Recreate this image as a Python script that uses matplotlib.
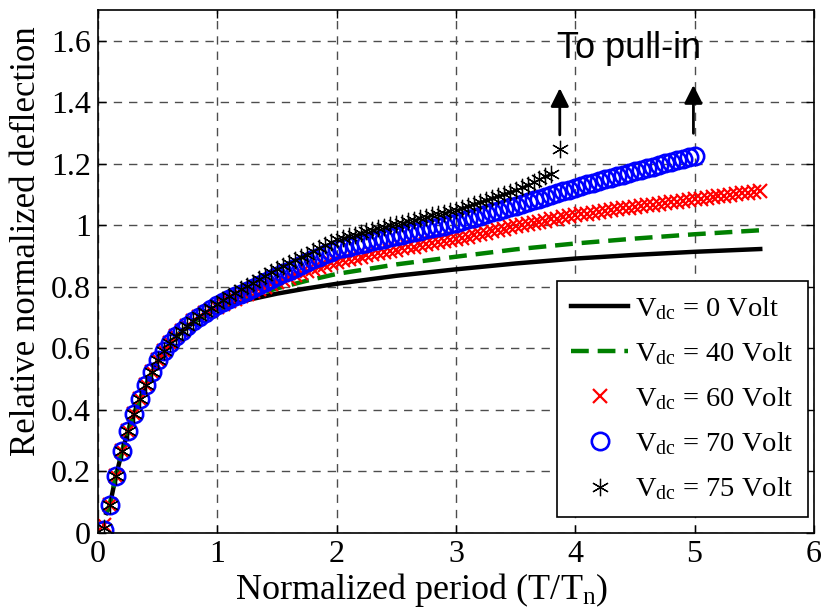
import matplotlib
matplotlib.use("Agg")
import matplotlib.pyplot as plt
import numpy as np

plt.rcParams['font.family'] = ['Liberation Serif', 'DejaVu Serif']
plt.rcParams['mathtext.fontset'] = 'custom'
plt.rcParams['mathtext.rm'] = 'Liberation Serif'
plt.rcParams['mathtext.it'] = 'Liberation Serif:italic'

# smooth curves (Vdc = 0 and 40 Volt)
x_line = [0.07, 0.1, 0.15, 0.2, 0.25, 0.3, 0.4, 0.5, 0.6, 0.7, 0.8, 0.9, 1.0,
          1.25, 1.5, 1.75, 2.0, 2.5, 3.0, 3.5, 4.0, 4.5, 5.0, 5.55]
y_v0 = [0.065, 0.092, 0.185, 0.262, 0.328, 0.384, 0.480, 0.558, 0.614, 0.654, 0.684, 0.708, 0.728,
        0.757, 0.778, 0.795, 0.810, 0.836, 0.857, 0.876, 0.892, 0.904, 0.914, 0.923]
y_v40 = [0.065, 0.092, 0.185, 0.264, 0.330, 0.386, 0.481, 0.560, 0.616, 0.656, 0.686, 0.710, 0.730,
         0.765, 0.795, 0.820, 0.842, 0.873, 0.898, 0.922, 0.941, 0.957, 0.971, 0.984]

# marker series, sampled every 0.05 in T/Tn
x_grid = np.round(np.arange(1, 112) * 0.05, 2)

y_v60 = [0.025, 0.090, 0.185, 0.265, 0.330, 0.386, 0.437, 0.482, 0.524, 0.561, 0.592, 0.618, 0.640, 0.658, 0.674, 0.688,
         0.702, 0.715, 0.725, 0.735,
         0.744, 0.753, 0.761, 0.770, 0.778, 0.786, 0.794, 0.801, 0.809, 0.816, 0.823, 0.830, 0.837, 0.844, 0.851, 0.857, 0.864, 0.870, 0.876, 0.882,
         0.886, 0.890, 0.894, 0.898, 0.902, 0.906, 0.910, 0.914, 0.918, 0.921, 0.925, 0.928, 0.931, 0.935, 0.938, 0.941, 0.945, 0.948, 0.952, 0.955,
         0.959, 0.963, 0.968, 0.972, 0.976, 0.980, 0.984, 0.989, 0.993, 0.997, 1.001, 1.004, 1.008, 1.012, 1.015, 1.019, 1.022, 1.026, 1.029, 1.033,
         1.036, 1.038, 1.041, 1.044, 1.047, 1.049, 1.052, 1.055, 1.057, 1.060, 1.062, 1.065, 1.067, 1.070, 1.072, 1.075, 1.077, 1.079, 1.082, 1.084,
         1.086, 1.089, 1.091, 1.094, 1.096, 1.099, 1.101, 1.104, 1.106, 1.109, 1.111]

y_v70 = [0.010, 0.090, 0.185, 0.265, 0.330, 0.386, 0.437, 0.482, 0.524, 0.561, 0.592, 0.618, 0.640, 0.658, 0.674, 0.688,
         0.703, 0.716, 0.728, 0.740,
         0.750, 0.759, 0.769, 0.778, 0.787, 0.796, 0.805, 0.815, 0.825, 0.835, 0.844, 0.853, 0.862, 0.871, 0.880, 0.889, 0.897, 0.906, 0.914, 0.922,
         0.926, 0.931, 0.935, 0.939, 0.944, 0.948, 0.952, 0.957, 0.961, 0.965, 0.969, 0.974, 0.978, 0.982, 0.987, 0.991, 0.995, 0.999, 1.004, 1.008,
         1.014, 1.019, 1.025, 1.030, 1.036, 1.042, 1.047, 1.053, 1.058, 1.064, 1.070, 1.076, 1.081, 1.087, 1.093, 1.099, 1.105, 1.110, 1.116, 1.122,
         1.127, 1.133, 1.138, 1.143, 1.149, 1.154, 1.159, 1.165, 1.170, 1.175, 1.180, 1.185, 1.190, 1.196, 1.201, 1.206, 1.211, 1.216, 1.221, 1.226]

y_v75 = [0.015, 0.090, 0.185, 0.265, 0.330, 0.386, 0.437, 0.482, 0.524, 0.561, 0.592, 0.618, 0.640, 0.658, 0.674, 0.688,
         0.704, 0.718, 0.731, 0.745,
         0.757, 0.769, 0.780, 0.792, 0.803, 0.814, 0.825, 0.836, 0.847, 0.858, 0.868, 0.877, 0.887, 0.896, 0.905, 0.915, 0.925, 0.935, 0.945, 0.955,
         0.960, 0.965, 0.970, 0.975, 0.980, 0.985, 0.990, 0.995, 1.000, 1.005, 1.009, 1.014, 1.018, 1.023, 1.027, 1.032, 1.036, 1.041, 1.045, 1.050,
         1.056, 1.063, 1.069, 1.076, 1.082, 1.089, 1.095, 1.102, 1.108, 1.115, 1.123, 1.132, 1.141, 1.150, 1.159, 1.168]
x_v75_last, y_v75_last = 3.87, 1.247

# pull-in arrows: (x, y_start, y_end)
arrows = [(3.87, 1.285, 1.455), (4.99, 1.29, 1.465)]

fig = plt.figure(figsize=(8.22, 6.12), dpi=100)
ax = fig.add_axes([0.1192, 0.1291, 0.871, 0.8546])

ax.plot(x_line, y_v0, '-', color='black', lw=3.2, label=r'V$_{\rm dc}$ = 0 Volt')
ax.plot(x_line, y_v40, '--', color='#008000', lw=3.2, dashes=(4, 2), label=r'V$_{\rm dc}$ = 40 Volt')
ax.plot(x_grid[:len(y_v60)], y_v60, 'x', color='red', ms=10.5, mew=1.6, ls='none',
        label=r'V$_{\rm dc}$ = 60 Volt')
ax.plot(x_grid[:len(y_v70)], y_v70, 'o', mfc='none', mec='blue', ms=12.5, mew=1.9, ls='none',
        label=r'V$_{\rm dc}$ = 70 Volt')
xs75 = list(x_grid[:len(y_v75)]) + [x_v75_last]
ys75 = y_v75 + [y_v75_last]
ax.plot(xs75, ys75, ls='none', marker=(6, 2, 0), color='black', ms=12.5, mew=0.9,
        label=r'V$_{\rm dc}$ = 75 Volt')

for xa, y0, y1 in arrows:
    ax.annotate('', xy=(xa, y1), xytext=(xa, y0),
                arrowprops=dict(arrowstyle='-|>,head_length=1.1,head_width=0.55',
                                color='black', lw=2))
ax.text(4.45, 1.575, 'To pull-in', family=['Liberation Sans', 'DejaVu Sans'],
        fontsize=26, ha='center', va='center')

ax.set_xlim(0, 6)
ax.set_ylim(0, 1.7)
ax.set_xticks(range(7))
yt = [0, 0.2, 0.4, 0.6, 0.8, 1.0, 1.2, 1.4, 1.6]
ax.set_yticks(yt)
ax.set_yticklabels(['%g' % v for v in yt])
ax.tick_params(direction='in', top=True, right=True, labelsize=23, length=6, width=1, pad=5)
ax.grid(True, ls=(0, (6, 5)), color='#4d4d4d', lw=1)
for s in ax.spines.values():
    s.set_linewidth(1.2)

ax.set_xlabel(r'Normalized period (T/T$_{\rm n}$)', fontsize=26)
ax.set_ylabel('Relative normalized deflection', fontsize=25)
ax.xaxis.set_label_coords(0.4525, -0.072)
ax.yaxis.set_label_coords(-0.077, 0.558)

leg = ax.legend(loc='lower right', bbox_to_anchor=(0.992, 0.031), fontsize=20.5,
                fancybox=False, framealpha=1, edgecolor='black', handlelength=2.0,
                labelspacing=0.64, borderpad=0.5, handletextpad=0.25, borderaxespad=0)
leg.get_frame().set_linewidth(1.2)

fig.savefig('out.png', dpi=100)
